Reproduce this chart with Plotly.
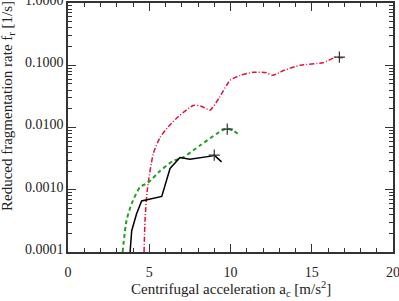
import plotly.graph_objects as go

# Red dash-dot series
red_x = [4.68, 4.74, 4.88, 5.25, 5.66, 6.2, 6.8, 7.7, 8.2, 8.74, 9.3, 9.97, 10.6, 11.4, 12.2, 12.6, 13.3, 14.3, 15.7, 16.5, 17.0]
red_y = [0.0001, 0.00032, 0.001, 0.0038, 0.0069, 0.0105, 0.015, 0.0226, 0.022, 0.019, 0.03, 0.057, 0.069, 0.077, 0.076, 0.069, 0.083, 0.1, 0.11, 0.135, 0.13]

# Green dashed series
green_x = [3.36, 3.6, 3.92, 4.43, 4.93, 5.66, 6.46, 7.08, 8.1, 9.17, 9.76, 10.2, 10.6]
green_y = [0.0001, 0.00032, 0.0006, 0.0011, 0.0013, 0.002, 0.0029, 0.0033, 0.0051, 0.008, 0.0096, 0.0088, 0.0074]

# Black solid series
black_x = [3.82, 3.92, 4.22, 4.53, 5.77, 6.07, 6.28, 6.89, 7.5, 8.9, 9.0, 9.45]
black_y = [0.0001, 0.00022, 0.00041, 0.00066, 0.00078, 0.0015, 0.0022, 0.0033, 0.0031, 0.0035, 0.0036, 0.0028]

# Maximum markers
mark_x = [16.7, 9.8, 9.0]
mark_y = [0.135, 0.0094, 0.0036]

x_ticks = [0, 5, 10, 15, 20]
y_ticks = [0.0001, 0.001, 0.01, 0.1, 1.0]
y_tick_labels = ["0.0001", "0.0010", "0.0100", "0.1000", "1.0000"]

x_title = "Centrifugal acceleration a<sub>c</sub> [m/s<sup>2</sup>]"
y_title = "Reduced fragmentation rate f<sub>r</sub> [1/s]"

fig = go.Figure()
fig.add_trace(go.Scatter(x=red_x, y=red_y, mode="lines",
                         line=dict(color="#dc143c", width=1.5, dash="5px,2px,1px,2px", shape="spline", smoothing=0.6)))
fig.add_trace(go.Scatter(x=green_x, y=green_y, mode="lines",
                         line=dict(color="#22a022", width=2, dash="4px,3px", shape="spline", smoothing=0.6)))
fig.add_trace(go.Scatter(x=black_x, y=black_y, mode="lines",
                         line=dict(color="black", width=1.5)))
fig.add_trace(go.Scatter(x=mark_x, y=mark_y, mode="markers",
                         marker=dict(symbol="cross-thin", size=8, line=dict(color="#333333", width=1.2))))

font_family = "Liberation Serif, Times New Roman, serif"
fig.update_layout(
    width=399, height=301,
    margin=dict(l=68, r=6, t=3, b=49, autoexpand=False),
    plot_bgcolor="white", paper_bgcolor="white",
    showlegend=False,
    font=dict(family=font_family, size=14, color="#222222"),
    annotations=[
        dict(text=x_title, xref="paper", yref="paper", x=0.5, y=-0.1486,
             xanchor="center", yanchor="middle", showarrow=False,
             font=dict(family=font_family, size=15, color="#222222")),
        dict(text=y_title, xref="paper", yref="paper", x=-0.1846, y=0.5863,
             xanchor="center", yanchor="middle", showarrow=False, textangle=-90,
             font=dict(family=font_family, size=15, color="#222222")),
    ],
)
fig.update_xaxes(
    range=[0, 20], tickvals=x_ticks, ticktext=[str(v) for v in x_ticks],
    showgrid=False, zeroline=False, showline=True, linecolor="#333333", linewidth=1.5,
    mirror="ticks", ticks="inside", ticklen=8, tickcolor="#333333", tickwidth=1,
    minor=dict(ticks="inside", ticklen=4, dtick=1, tickcolor="#333333", showgrid=False),
    ticklabeloverflow="allow", automargin=False, ticklabelstandoff=6,
)
fig.update_yaxes(
    type="log", range=[-4, 0], tickvals=y_ticks, ticktext=y_tick_labels,
    showgrid=False, zeroline=False, showline=True, linecolor="#333333", linewidth=1.5,
    mirror="ticks", ticks="inside", ticklen=8, tickcolor="#333333", tickwidth=1,
    minor=dict(ticks="inside", ticklen=4, dtick="D1", tickcolor="#333333", showgrid=False),
    ticklabeloverflow="allow", automargin=False, ticklabelshift=-3,
)
fig.write_html("out.html", config={"displayModeBar": False},
               post_script="document.body.style.margin='0';")
